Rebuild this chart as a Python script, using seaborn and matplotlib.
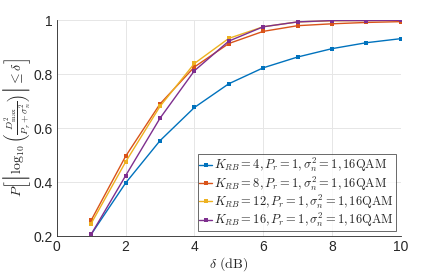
import numpy as np
import matplotlib
matplotlib.use("Agg")
import matplotlib.pyplot as plt
import seaborn as sns
import pandas as pd

# delta values (dB) and probability curves per K_RB
delta_db = [1, 2, 3, 4, 5, 6, 7, 8, 9, 10]
p_k4 = [0.206, 0.396, 0.553, 0.676, 0.764, 0.823, 0.863, 0.894, 0.916, 0.931]
p_k8 = [0.258, 0.495, 0.689, 0.826, 0.913, 0.958, 0.979, 0.986, 0.991, 0.994]
p_k12 = [0.246, 0.474, 0.680, 0.839, 0.932, 0.975, 0.993, 0.997, 0.998, 0.999]
p_k16 = [0.206, 0.423, 0.636, 0.812, 0.922, 0.975, 0.993, 0.998, 0.998, 0.999]

labels = [
    r"$K_{RB} = 4, P_r = 1, \sigma_n^2 = 1\mathrm{,16QAM}$",
    r"$K_{RB} = 8, P_r = 1, \sigma_n^2 = 1\mathrm{,16QAM}$",
    r"$K_{RB} = 12, P_r = 1, \sigma_n^2 = 1\mathrm{,16QAM}$",
    r"$K_{RB} = 16, P_r = 1, \sigma_n^2 = 1\mathrm{,16QAM}$",
]
colors = ["#0072BD", "#D95319", "#EDB120", "#7E2F8E"]

df = pd.DataFrame({
    "delta": delta_db * 4,
    "p": p_k4 + p_k8 + p_k12 + p_k16,
    "series": [l for l in labels for _ in delta_db],
})

sns.set_style("white")
plt.rcParams["font.family"] = ["Liberation Sans", "DejaVu Sans"]
plt.rcParams["mathtext.fontset"] = "cm"

fig = plt.figure(figsize=(4.43, 2.78), dpi=100)
ax = fig.add_axes([0.128, 0.151, 0.777, 0.777])

sns.lineplot(data=df, x="delta", y="p", hue="series", palette=colors,
             marker="s", markersize=3, markeredgewidth=0, linewidth=1.0,
             ax=ax)

ax.set_xlim(0, 10)
ax.set_ylim(0.2, 1)
ax.set_xticks([0, 2, 4, 6, 8, 10])
ax.set_yticks([0.2, 0.4, 0.6, 0.8, 1.0])
ax.set_yticklabels(["0.2", "0.4", "0.6", "0.8", "1"])
ax.tick_params(axis="both", labelsize=10, colors="#262626", length=0, pad=3)
ax.grid(True, color="#e6e6e6", linewidth=0.7)
ax.set_axisbelow(True)
for side in ["top", "right"]:
    ax.spines[side].set_visible(False)
for side in ["left", "bottom"]:
    ax.spines[side].set_color("#262626")
    ax.spines[side].set_linewidth(0.6)

ax.set_xlabel(r"$\delta\ \mathrm{(dB)}$", fontsize=10, labelpad=1)
ax.set_ylabel(r"$P\left[\left|\log_{10}\left(\frac{D^2_{\max}}{P_r+\sigma_n^2}\right)\right| \leq \delta\right]$",
              fontsize=10, labelpad=0)

leg = ax.legend(loc="lower right", fontsize=9, frameon=True, fancybox=False,
                handlelength=1.0, handletextpad=0.2, borderpad=0.15,
                labelspacing=0.0, borderaxespad=0.4)
leg.get_frame().set_edgecolor("#262626")
leg.get_frame().set_linewidth(0.6)

plt.savefig("out.png", dpi=100)
